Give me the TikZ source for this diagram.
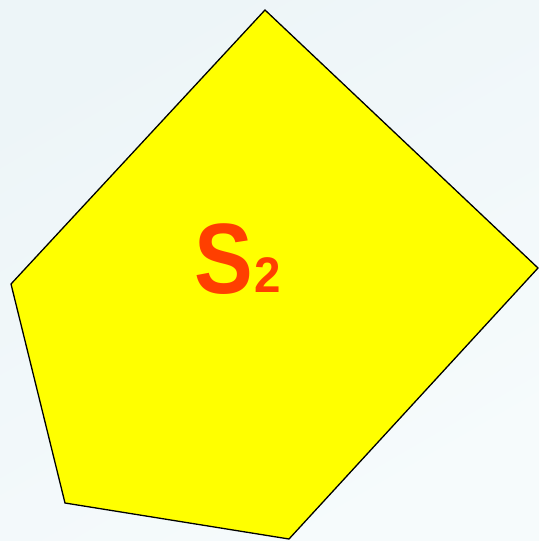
\documentclass[tikz,border=0pt]{standalone}
\usepackage{fontspec}
\setmainfont{Liberation Sans}
\definecolor{bgA}{HTML}{EDF5F8}
\definecolor{bgB}{HTML}{F6FBFC}
\definecolor{polyfill}{HTML}{FFFF00}
\definecolor{labelred}{HTML}{FF3F00}
\tikzset{
  poly/.style={draw=black, fill=polyfill, line width=1.3pt, line join=miter},
  biglabel/.style={text=labelred, font=\bfseries\fontsize{100}{100}\selectfont, inner sep=0pt, anchor=base west, xscale=0.88},
  sublabel/.style={text=labelred, font=\bfseries\fontsize{50}{50}\selectfont, inner sep=0pt, anchor=base west, xscale=0.95}
}
\begin{document}
\begin{tikzpicture}[x=1pt,y=-1pt]
\useasboundingbox (0,0) rectangle (539,541);
\shade[top color=bgA, bottom color=bgB, shading angle=30] (0,0) rectangle (539,541);
\coordinate (p1) at (265,10);
\coordinate (p2) at (538,268);
\coordinate (p3) at (289,539);
\coordinate (p4) at (65,503);
\coordinate (p5) at (11,284);
\draw[poly] (p1) -- (p2) -- (p3) -- (p4) -- (p5) -- cycle;
\node[biglabel] (s) at (194,293) {S};
\node[sublabel] (two) at (254,292) {2};
\end{tikzpicture}
\end{document}
